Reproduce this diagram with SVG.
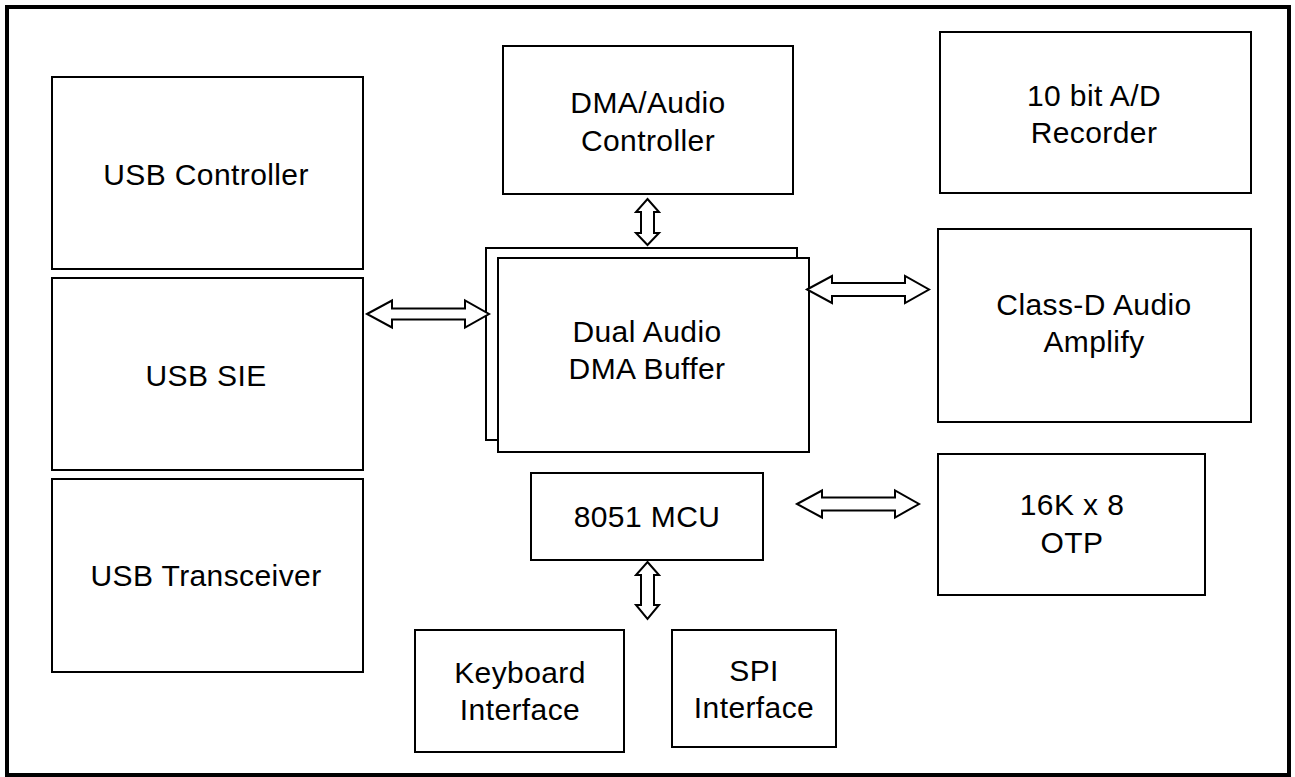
<svg xmlns="http://www.w3.org/2000/svg" width="1295" height="777" viewBox="0 0 1295 777">
<style>
.box{fill:#fff;stroke:#000;stroke-width:2}
.frame{fill:#fff;stroke:#000;stroke-width:4}
.arr{fill:#fff;stroke:#000;stroke-width:2;stroke-linejoin:miter}
text{font-family:"Liberation Sans",Arial,sans-serif;font-size:30px;letter-spacing:0.4px;fill:#000;text-anchor:middle}
</style>
<rect class="frame" x="7" y="7" width="1282" height="768"/>
<g id="usb-controller"><rect class="box" x="52" y="77" width="311" height="192"/><text x="206" y="185">USB Controller</text></g>
<g id="usb-sie"><rect class="box" x="52" y="278" width="311" height="192"/><text x="206" y="386">USB SIE</text></g>
<g id="usb-transceiver"><rect class="box" x="52" y="479" width="311" height="193"/><text x="206" y="586">USB Transceiver</text></g>
<g id="dma-audio-controller"><rect class="box" x="503" y="46" width="290" height="148"/><text x="648" y="113">DMA/Audio</text><text x="648" y="151">Controller</text></g>
<g id="dual-audio-dma-buffer"><rect class="box" x="486" y="248" width="311" height="192"/><rect class="box" x="498" y="258" width="311" height="194"/><text x="647" y="342">Dual Audio</text><text x="647" y="379">DMA Buffer</text></g>
<g id="mcu-8051"><rect class="box" x="531" y="473" width="232" height="87"/><text x="647" y="527">8051 MCU</text></g>
<g id="keyboard-interface"><rect class="box" x="415" y="630" width="209" height="122"/><text x="520" y="683">Keyboard</text><text x="520" y="720">Interface</text></g>
<g id="spi-interface"><rect class="box" x="672" y="630" width="164" height="117"/><text x="754" y="681">SPI</text><text x="754" y="718">Interface</text></g>
<g id="ad-recorder"><rect class="box" x="940" y="32" width="311" height="161"/><text x="1094" y="106">10 bit A/D</text><text x="1094" y="143">Recorder</text></g>
<g id="class-d-amplify"><rect class="box" x="938" y="229" width="313" height="193"/><text x="1094" y="315">Class-D Audio</text><text x="1094" y="352">Amplify</text></g>
<g id="otp"><rect class="box" x="938" y="454" width="267" height="141"/><text x="1072" y="515">16K x 8</text><text x="1072" y="553">OTP</text></g>
<g id="connectors">
<polygon class="arr" points="367,314 392,300.5 392,308.5 465,308.5 465,300.5 489,314 465,327.5 465,319.5 392,319.5 392,327.5"/>
<polygon class="arr" points="807,289.5 832,276 832,283 905,283 905,276 929,289.5 905,303 905,296 832,296 832,303"/>
<polygon class="arr" points="797,504 822,490.5 822,497.5 895,497.5 895,490.5 919,504 895,517.5 895,510.5 822,510.5 822,517.5"/>
<polygon class="arr" points="647.5,199 659,212 654,212 654,233 659,233 647.5,245 636,233 641,233 641,212 636,212"/>
<polygon class="arr" points="647.5,562 659,575 654,575 654,605 659,605 647.5,619 636,605 641,605 641,575 636,575"/>
</g>
</svg>
